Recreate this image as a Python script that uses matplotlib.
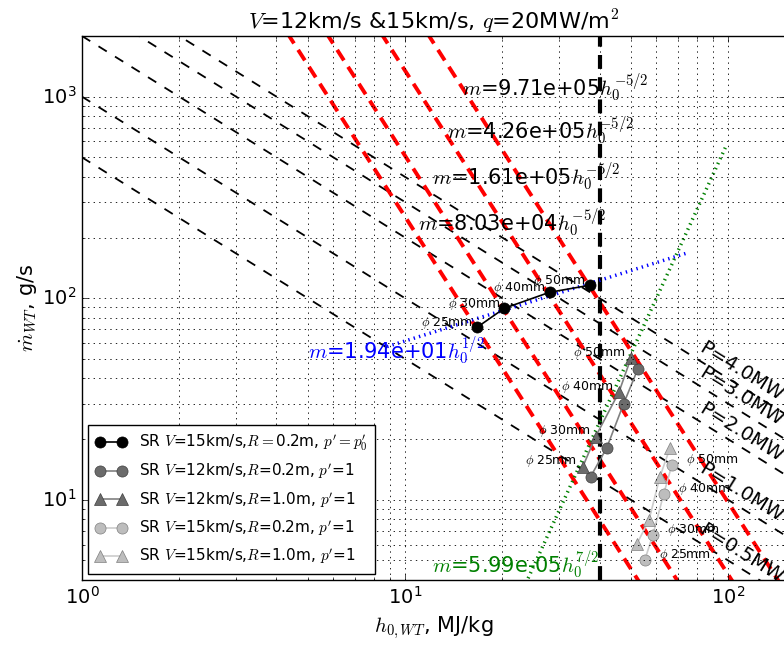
import numpy as np
import matplotlib
matplotlib.use("Agg")
import matplotlib.pyplot as plt

plt.style.use("classic")
plt.rcParams["lines.scale_dashes"] = False

# Measured operating points: total enthalpy h0 [MJ/kg] vs mass flow [g/s]
diam_labels = ["25mm", "30mm", "40mm", "50mm"]

h_v15_r02_p0 = [16.7, 20.3, 28.0, 37.3]
m_v15_r02_p0 = [71.7, 89.2, 107.0, 116.0]

h_v12_r02 = [37.5, 42.1, 47.5, 52.5]
m_v12_r02 = [13.0, 18.1, 30.0, 44.4]

h_v12_r10 = [35.5, 38.9, 45.9, 50.0]
m_v12_r10 = [14.6, 20.6, 34.1, 50.3]

h_v15_r02 = [55.2, 58.5, 63.2, 67.0]
m_v15_r02 = [5.02, 6.70, 10.7, 14.9]

h_v15_r10 = [52.2, 56.9, 61.5, 66.1]
m_v15_r10 = [6.04, 7.94, 13.0, 18.1]

# Constant-power lines P = m*h  (MW)
powers = [0.5, 1.0, 2.0, 3.0, 4.0]
# Constant-heat-flux curves m = C h^-5/2
c_heat = [9.71e5, 4.26e5, 1.61e5, 8.03e4]
# Power-law fits
fit_blue = (19.4, 0.5)
fit_green = (5.99e-5, 3.5)
h_limit = 40.0

fig = plt.figure(figsize=(7.84, 6.48), dpi=100, facecolor="white")
ax = fig.add_axes([82 / 784, 1 - 580 / 648, 703 / 784, 544 / 648])
ax.set_xscale("log")
ax.set_yscale("log")
ax.set_xlim(1, 150)
ax.set_ylim(4, 2000)

ax.grid(True, which="both", color="k", linestyle=":", linewidth=0.6)

hh = np.logspace(0, np.log10(150), 400)
for P in powers:
    ax.plot(hh, P * 1000 / hh, color="k", linestyle="--", dashes=(7, 7), lw=1.3)
for C in c_heat:
    ax.plot(hh, C * hh ** -2.5, color="red", linestyle="--", dashes=(9, 5.5), lw=2.8)

ax.axvline(h_limit, color="k", linestyle="--", dashes=(10, 6), lw=3)

hb = np.logspace(np.log10(8.8), np.log10(75), 100)
ax.plot(hb, fit_blue[0] * hb ** fit_blue[1], color="b", linestyle=":", lw=2.5)
hg = np.logspace(np.log10(15), np.log10(98), 100)
ax.plot(hg, fit_green[0] * hg ** fit_green[1], color="g", linestyle=":", lw=2.5)

# Labels for the heat-flux curves
lab_pos = [(15.0, 1110), (13.5, 680), (12.1, 400), (10.95, 237)]
for C, (hx, my) in zip(c_heat, lab_pos):
    s = "%.2e" % C
    ax.text(hx, my, r"$m$=" + s + r"$h_0^{-5/2}$", fontsize=15,
            ha="left", va="center", color="k")

ax.text(5.0, 55, r"$m$=%.2e$h_0^{1/2}$" % fit_blue[0], fontsize=15,
        ha="left", va="center", color="b")
ax.text(12.1, 4.75, r"$m$=%.2e$h_0^{7/2}$" % fit_green[0], fontsize=15,
        ha="left", va="center", color="g")

# Power labels along the constant-power lines
for P in powers:
    hx = 110
    ax.text(hx, P * 1000 / hx * 1.19, "P=%.1fMW" % P, fontsize=14,
            rotation=-32, rotation_mode="anchor", ha="center", va="center")

dark = "0.42"
light = "0.74"
ax.plot(h_v15_r02_p0, m_v15_r02_p0, "o-", color="k", mfc="k", mec="k", ms=8, lw=1.2,
        label=r"SR $V$=15km/s,$R=$0.2m, $p'=p_0'$")
ax.plot(h_v12_r02, m_v12_r02, "o-", color="0.5", mfc=dark, mec="0.25", ms=8, lw=1.2,
        label=r"SR $V$=12km/s,$R$=0.2m, $p'$=1")
ax.plot(h_v12_r10, m_v12_r10, "^-", color="0.5", mfc=dark, mec="0.25", ms=8, lw=1.2,
        label=r"SR $V$=12km/s,$R$=1.0m, $p'$=1")
ax.plot(h_v15_r02, m_v15_r02, "o-", color="0.8", mfc=light, mec="0.5", ms=8, lw=1.2,
        label=r"SR $V$=15km/s,$R$=0.2m, $p'$=1")
ax.plot(h_v15_r10, m_v15_r10, "^-", color="0.8", mfc=light, mec="0.5", ms=8, lw=1.2,
        label=r"SR $V$=15km/s,$R$=1.0m, $p'$=1")

for hx, my, d in zip(h_v15_r02_p0, m_v15_r02_p0, diam_labels):
    ax.annotate(r"$\phi$ " + d, (hx, my), xytext=(-3, 3), textcoords="offset points",
                ha="right", va="center", fontsize=9)
for hx, my, d in zip(h_v12_r10, m_v12_r10, diam_labels):
    ax.annotate(r"$\phi$ " + d, (hx, my), xytext=(-4, 4), textcoords="offset points",
                ha="right", va="center", fontsize=9)
for hx, my, d in zip(h_v15_r02, m_v15_r02, diam_labels):
    ax.annotate(r"$\phi$ " + d, (hx, my), xytext=(10, 3.5), textcoords="offset points",
                ha="left", va="center", fontsize=9)

ax.legend(loc="lower left", fontsize=11, numpoints=2, labelspacing=0.6,
          handlelength=2.0, borderaxespad=0.4, borderpad=0.5)

ax.set_title(r"$V$=12km/s &15km/s, $q$=20MW/m$^2$", fontsize=16)
ax.set_xlabel(r"$h_{0,WT}$, MJ/kg", fontsize=15)
ax.set_ylabel(r"$\dot{m}_{WT}$, g/s", fontsize=15, labelpad=2)
ax.tick_params(labelsize=14)

fig.savefig("out.png", dpi=100, facecolor="white")
